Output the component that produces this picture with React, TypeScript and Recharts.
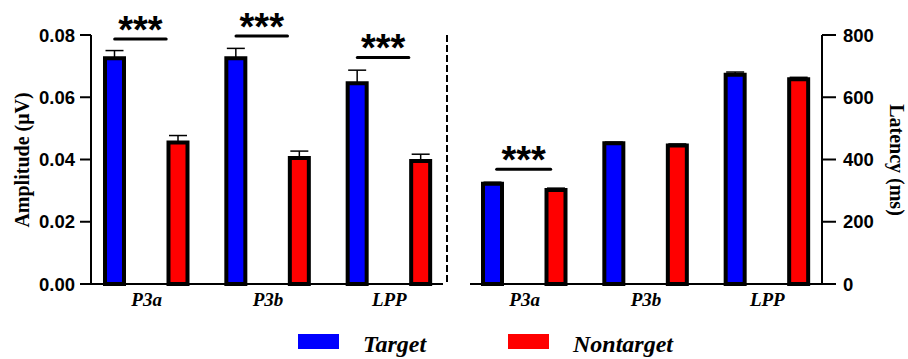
import React from 'react';
import { Bar, BarChart, ErrorBar, ReferenceDot, XAxis, YAxis } from 'recharts';

const categories = ['P3a', 'P3b', 'LPP'];
const seriesNames = ['Target', 'Nontarget'];
const seriesColors = ['#0000ff', '#ff0000'];

const amplitudeTarget = [0.0725, 0.0725, 0.0645];
const amplitudeNontarget = [0.0455, 0.0405, 0.0395];
const amplitudeTargetErr = [0.0025, 0.0032, 0.0042];
const amplitudeNontargetErr = [0.0022, 0.0022, 0.0022];
const amplitudeTicks = [0, 0.02, 0.04, 0.06, 0.08];

const latencyTarget = [322, 452, 672];
const latencyNontarget = [302, 445, 658];
const latencyTargetErr = [5, 4, 9];
const latencyNontargetErr = [6, 5, 6];
const latencyTicks = [0, 200, 400, 600, 800];

// significance bars (***) : category and height in data units
const amplitudeSig = [
  { category: 'P3a', level: 0.0787 },
  { category: 'P3b', level: 0.0797 },
  { category: 'LPP', level: 0.0728 },
];
const latencySig = [{ category: 'P3a', level: 369 }];

const buildRows = (t: number[], n: number[], te: number[], ne: number[]) =>
  categories.map((c, i) => ({
    category: c,
    target: t[i],
    nontarget: n[i],
    targetErr: [0, te[i]],
    nontargetErr: [0, ne[i]],
  }));

const amplitudeRows = buildRows(amplitudeTarget, amplitudeNontarget, amplitudeTargetErr, amplitudeNontargetErr);
const latencyRows = buildRows(latencyTarget, latencyNontarget, latencyTargetErr, latencyNontargetErr);

const SANS = "'Liberation Sans', Arial, sans-serif";
const SERIF = "'Liberation Serif', 'Times New Roman', serif";
const axisStroke = { stroke: '#000', strokeWidth: 2 };

function SigMark(props: any) {
  const { cx, cy, from, to } = props;
  if (cx == null || cy == null) return null;
  return (
    <g>
      <line x1={cx + from} y1={cy} x2={cx + to} y2={cy} stroke="#000" strokeWidth={3} strokeLinecap="round" />
      <text x={cx + (from + to) / 2} y={cy + 4} textAnchor="middle" fontSize={38} fontWeight="bold" fontFamily={SANS}>
        ***
      </text>
    </g>
  );
}

function CategoryTick(props: any) {
  const { x, y, payload } = props;
  return (
    <text x={x} y={y + 14} textAnchor="middle" fontSize={19} fontWeight="bold" fontStyle="italic" fontFamily={SERIF} fill="#000">
      {payload.value}
    </text>
  );
}

function Bars() {
  return [
    <Bar key="t" dataKey="target" fill={seriesColors[0]} stroke="#000" strokeWidth={4} isAnimationActive={false}>
      <ErrorBar dataKey="targetErr" direction="y" width={9} stroke="#000" strokeWidth={1.5} isAnimationActive={false} />
    </Bar>,
    <Bar key="n" dataKey="nontarget" fill={seriesColors[1]} stroke="#000" strokeWidth={4} isAnimationActive={false}>
      <ErrorBar dataKey="nontargetErr" direction="y" width={9} stroke="#000" strokeWidth={1.5} isAnimationActive={false} />
    </Bar>,
  ];
}

export default function App() {
  const tickStyle = { fontSize: 18.5, fontWeight: 'bold', fontFamily: SANS, fill: '#000' };
  return (
    <div style={{ position: 'absolute', left: 0, top: 0, width: 908, height: 359, background: '#fff' }}>
      <div style={{ position: 'absolute', left: 0, top: 0 }}>
        <BarChart
          width={450}
          height={310}
          data={amplitudeRows}
          margin={{ top: 35, right: 7, bottom: 0, left: 0 }}
          barSize={19}
          barGap={44.5}
        >
          <XAxis
            dataKey="category"
            height={26}
            axisLine={axisStroke}
            tickLine={false}
            tick={<CategoryTick />}
            padding={{ left: -5, right: -7 }}
            interval={0}
          />
          <YAxis
            width={91}
            domain={[0, 0.08]}
            ticks={amplitudeTicks}
            tickFormatter={(v: number) => v.toFixed(2)}
            axisLine={axisStroke}
            tickLine={axisStroke}
            tickSize={11}
            tickMargin={5}
            tick={tickStyle}
            interval={0}
          />
          {Bars()}
          {amplitudeSig.map((s) => (
            <ReferenceDot
              key={s.category}
              x={s.category}
              y={s.level}
              ifOverflow="visible"
              shape={(p: any) => <SigMark {...p} from={-32} to={19.5} />}
            />
          ))}
        </BarChart>
      </div>
      <div style={{ position: 'absolute', left: 450, top: 0 }}>
        <BarChart
          width={458}
          height={310}
          data={latencyRows}
          margin={{ top: 35, right: 0, bottom: 0, left: 20 }}
          barSize={19}
          barGap={44.5}
        >
          <XAxis
            dataKey="category"
            height={26}
            axisLine={axisStroke}
            tickLine={false}
            tick={<CategoryTick />}
            padding={{ left: -6, right: -6 }}
            interval={0}
          />
          <YAxis
            orientation="right"
            width={86}
            domain={[0, 800]}
            ticks={latencyTicks}
            axisLine={axisStroke}
            tickLine={axisStroke}
            tickSize={14}
            tickMargin={7}
            tick={{ ...tickStyle, textAnchor: 'start' }}
            interval={0}
          />
          {Bars()}
          {latencySig.map((s) => (
            <ReferenceDot
              key={s.category}
              x={s.category}
              y={s.level}
              ifOverflow="visible"
              shape={(p: any) => <SigMark {...p} from={-28} to={26} />}
            />
          ))}
        </BarChart>
      </div>
      <svg width={908} height={359} style={{ position: 'absolute', left: 0, top: 0, pointerEvents: 'none' }}>
        <line x1={447} y1={35} x2={447} y2={285} stroke="#000" strokeWidth={2} strokeDasharray="7 3" />
        <text
          x={22}
          y={160}
          transform="rotate(-90 22 160)"
          dy="0.35em"
          textAnchor="middle"
          fontSize={20}
          fontWeight="bold"
          fontFamily={SERIF}
        >
          Amplitude (μV)
        </text>
        <text
          x={896}
          y={160}
          transform="rotate(90 896 160)"
          dy="0.3em"
          textAnchor="middle"
          fontSize={20}
          fontWeight="bold"
          fontFamily={SERIF}
        >
          Latency (ms)
        </text>
        {seriesNames.map((name, i) => (
          <g key={name}>
            <rect x={298 + i * 210} y={334} width={41} height={15} fill={seriesColors[i]} />
            <text x={363 + i * 210} y={352} fontSize={24} fontWeight="bold" fontStyle="italic" fontFamily={SERIF}>
              {name}
            </text>
          </g>
        ))}
      </svg>
    </div>
  );
}
